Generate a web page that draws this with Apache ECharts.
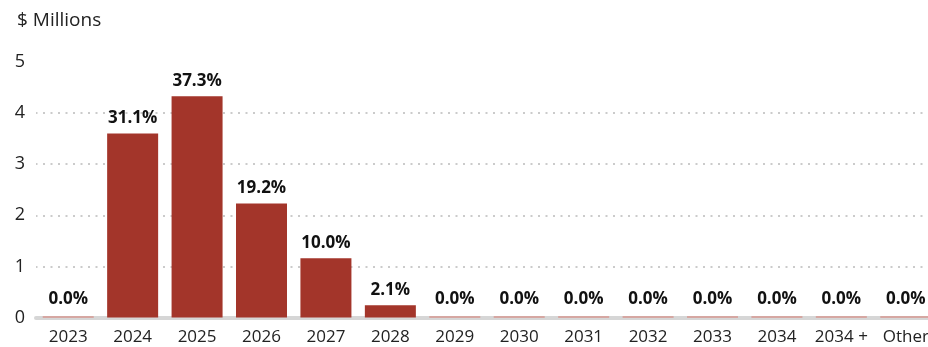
<!DOCTYPE html>
<html>
<head>
<meta charset="utf-8">
<script src="https://cdn.jsdelivr.net/npm/echarts@6/dist/echarts.min.js"></script>
<style>
  html, body { margin: 0; padding: 0; background: #fff; }
  #chart { width: 928px; height: 347px; }
</style>
</head>
<body>
<div id="chart"></div>
<script>
// Maturity buckets
var categories = ['2023', '2024', '2025', '2026', '2027', '2028', '2029', '2030', '2031', '2032', '2033', '2034', '2034 +', 'Other'];
// Amount maturing per bucket, $ millions
var amounts = [0, 3.60, 4.33, 2.23, 1.16, 0.24, 0, 0, 0, 0, 0, 0, 0, 0];
// Share of total shown above each bar, %
var shares = [0.0, 31.1, 37.3, 19.2, 10.0, 2.1, 0.0, 0.0, 0.0, 0.0, 0.0, 0.0, 0.0, 0.0];
// Value axis ticks
var yTicks = [0, 1, 2, 3, 4, 5];

var barColor = '#a3352a';
var zeroColor = '#d6796f';
var fontFamily = '"Open Sans", "Noto Sans", sans-serif';

var chart = echarts.init(document.getElementById('chart'), null, { renderer: 'canvas' });

chart.setOption({
  animation: false,
  backgroundColor: '#ffffff',
  title: {
    text: '$ Millions',
    left: 12,
    top: 6,
    textStyle: { fontFamily: fontFamily, fontSize: 19, fontWeight: 'normal', color: '#222' }
  },
  grid: {
    left: 36, top: 62, width: 902, height: 255.5,
    containLabel: false,
    outerBoundsMode: 'none'
  },
  xAxis: {
    type: 'category',
    data: categories,
    offset: 2,
    axisLine: { show: true, lineStyle: { color: '#d6d6d6', width: 4 } },
    axisTick: { show: false },
    axisLabel: {
      interval: 0,
      margin: 9,
      fontFamily: fontFamily,
      fontSize: 17,
      color: '#222',
      hideOverlap: false
    }
  },
  yAxis: {
    type: 'value',
    min: yTicks[0],
    max: yTicks[yTicks.length - 1],
    interval: 1,
    axisLine: { show: false },
    axisTick: { show: false },
    axisLabel: {
      margin: 11,
      fontFamily: fontFamily,
      fontSize: 18,
      color: '#222',
      formatter: function (v) { return yTicks.indexOf(v) >= 0 ? String(v) : ''; }
    },
    splitLine: {
      show: true,
      showMaxLine: false,
      showMinLine: false,
      lineStyle: { color: '#cbcbcb', width: 2, type: [2, 5.5], dashOffset: -7 }
    }
  },
  series: [{
    type: 'bar',
    barWidth: 51,
    barMinHeight: 1,
    data: amounts.map(function (v) {
      return {
        value: v,
        itemStyle: { color: v === 0 ? zeroColor : barColor },
        label: { distance: v === 0 ? 9 : 7 }
      };
    }),
    label: {
      show: true,
      position: 'top',
      fontFamily: fontFamily,
      fontSize: 17,
      fontWeight: 'bold',
      color: '#111',
      formatter: function (p) { return shares[p.dataIndex].toFixed(1) + '%'; }
    }
  }]
});
</script>
</body>
</html>
